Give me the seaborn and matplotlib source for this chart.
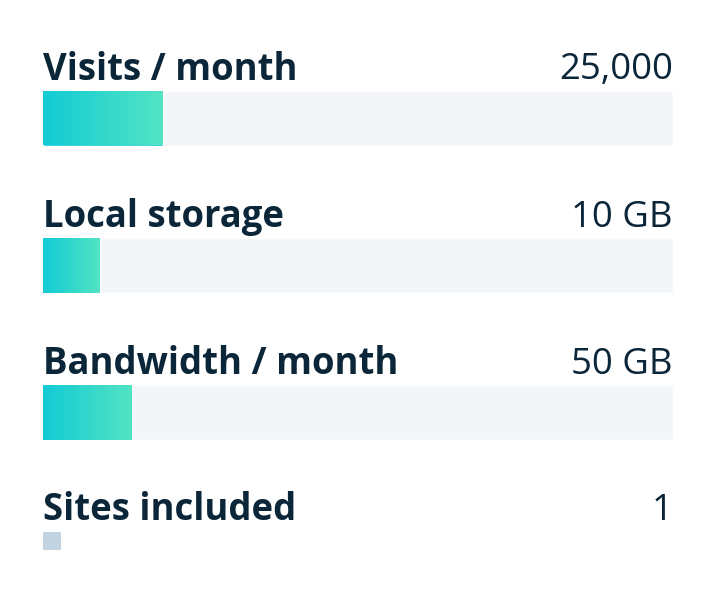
import matplotlib.pyplot as plt
import numpy as np
import pandas as pd
import seaborn as sns
from matplotlib.colors import LinearSegmentedColormap

# plan limits, as shown
labels = ["Visits / month", "Local storage", "Bandwidth / month", "Sites included"]
value_text = ["25,000", "10 GB", "50 GB", "1"]
fill_share = [0.19, 0.09, 0.14, 0.029]  # share of the track that is filled

TEXT = "#0b2638"
TRACK = "#f3f6f9"
EMPTY = "#c1d2e0"
grad = LinearSegmentedColormap.from_list("teal", ["#12cbd5", "#52e4c3"])

sns.set_theme(style="white")
plt.rcParams["font.family"] = ["Open Sans", "DejaVu Sans"]

W, H = 721, 605
fig = plt.figure(figsize=(W / 100, H / 100), dpi=100)
fig.patch.set_facecolor("white")
ax = fig.add_axes([43 / W, 0, 630 / W, 1])

row_px = 147.0
bar_h = 55 / row_px
sq_h = 18 / row_px

df = pd.DataFrame({"label": labels[:3], "track": 1.0, "fill": fill_share[:3]})
sns.barplot(data=df, y="label", x="track", color=TRACK, width=bar_h,
            saturation=1, ax=ax, orient="h")
n_track = len(ax.patches)
sns.barplot(data=df, y="label", x="fill", color=grad(0.0), width=bar_h,
            saturation=1, ax=ax, orient="h")

# gradient over each filled bar
gradient = np.linspace(0, 1, 256).reshape(1, -1)
for patch in ax.patches[n_track:]:
    x0, y0 = patch.get_x(), patch.get_y()
    w, h = patch.get_width(), patch.get_height()
    im = ax.imshow(gradient, cmap=grad, aspect="auto",
                   extent=(x0, x0 + w, y0 + h, y0), zorder=3)
    im.set_clip_path(patch)

# last row: nothing filled, just a small marker
ax.barh(3 - bar_h / 2, fill_share[3], height=sq_h, align="edge",
        color=EMPTY, linewidth=0)

for i, (lab, val) in enumerate(zip(labels, value_text)):
    y = i - bar_h / 2 - 11 / row_px
    ax.text(0, y, lab, fontsize=26.3, fontweight="bold", color=TEXT,
            ha="left", va="baseline")
    ax.text(1, y, val, fontsize=26.3, color=TEXT, ha="right", va="baseline")

ax.set_xlim(0, 1)
ax.set_ylim((H - 118) / row_px, -118 / row_px)
ax.axis("off")

fig.savefig("out.png", dpi=100, facecolor="white")
